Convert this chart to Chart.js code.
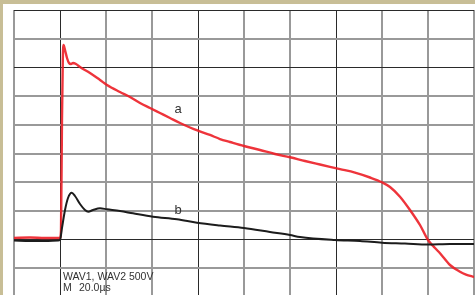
<!DOCTYPE html>
<html>
<head>
<meta charset="utf-8">
<script src="https://cdn.jsdelivr.net/npm/chart.js@4"></script>
<style>
html,body{margin:0;padding:0;background:#fff;overflow:hidden;}
#wrap{width:475px;height:295px;position:relative;}
</style>
</head>
<body>
<div id="wrap"><canvas id="c" width="475" height="295"></canvas></div>
<script>
// Time in divisions (20 µs/div), voltage in divisions (500 V/div)
const redX = [0,0.348,0.674,1.0,1.022,1.043,1.061,1.076,1.109,1.152,1.196,1.239,1.283,1.348,1.435,1.652,1.870,2.022,2.304,2.522,2.739,2.957,3.174,3.391,3.609,3.826,4.0,4.261,4.478,4.696,5.0,5.348,5.674,6.0,6.326,6.652,7.087,7.413,7.739,8.0,8.174,8.391,8.609,8.826,9.0,9.152,9.261,9.478,9.696,9.826,10];
const redY = [0.056,0.073,0.056,0.056,0.334,4.167,6.258,6.780,6.606,6.328,6.153,6.118,6.153,6.118,6.014,5.805,5.561,5.387,5.143,4.969,4.760,4.585,4.411,4.237,4.063,3.906,3.794,3.645,3.505,3.401,3.261,3.122,2.983,2.868,2.739,2.617,2.456,2.334,2.164,1.997,1.833,1.495,1.031,0.509,-0.014,-0.293,-0.477,-0.885,-1.118,-1.216,-1.303];
const blackX = [0,0.348,0.674,0.957,1.0,1.043,1.109,1.174,1.254,1.326,1.435,1.543,1.615,1.717,1.870,2.022,2.304,2.587,3.022,3.543,3.978,4.478,5.0,5.565,6.0,6.217,6.978,7.522,8.0,8.5,9.0,9.478,10];
const blackY = [-0.031,-0.049,-0.049,-0.031,-0.014,0.404,1.031,1.449,1.634,1.519,1.240,1.031,0.972,1.031,1.091,1.056,0.997,0.916,0.798,0.707,0.589,0.491,0.404,0.265,0.160,0.091,-0.014,-0.049,-0.108,-0.136,-0.171,-0.153,-0.153];
const xTicks = [0,1,2,3,4,5,6,7,8,9,10];
const yTicks = [-1,0,1,2,3,4,5,6,7,8];
const traceLabels = ['a','b'];
const infoLines = ['WAV1, WAV2 500V', 'M', '20.0\u00b5s'];

const darkX = [1,4,7];
const darkY = [8,6,0];

const bgPlugin = {
  id:'bg',
  beforeDraw(chart){
    const ctx = chart.ctx;
    ctx.save();
    ctx.fillStyle = '#c8be96';
    ctx.fillRect(0,0,chart.width,chart.height);
    ctx.fillStyle = '#ffffff';
    ctx.fillRect(3,4,chart.width-3,chart.height-4);
    ctx.restore();
  },
  afterDraw(chart){
    const ctx = chart.ctx;
    ctx.save();
    ctx.fillStyle = '#333';
    ctx.font = '13px "Liberation Sans Narrow", "Liberation Sans", Arial, sans-serif';
    ctx.textAlign = 'center';
    ctx.textBaseline = 'alphabetic';
    ctx.fillText(traceLabels[0], 178, 113);
    ctx.fillText(traceLabels[1], 178, 214);
    ctx.textAlign = 'left';
    ctx.font = '10.5px "Liberation Sans", Arial, sans-serif';
    ctx.fillText(infoLines[0], 63, 280);
    ctx.fillText(infoLines[1], 63, 291);
    ctx.fillText(infoLines[2], 79, 291);
    ctx.restore();
  }
};

const pts = (xa, ya) => xa.map((v,i)=>({x:v, y:ya[i]}));

new Chart(document.getElementById('c'), {
  type:'line',
  data:{
    datasets:[
      {label:'a', data:pts(redX,redY), borderColor:'rgba(236,30,38,0.9)', borderWidth:2.4, pointRadius:0, cubicInterpolationMode:'monotone', order:2},
      {label:'b', data:pts(blackX,blackY), borderColor:'#1c1c1c', borderWidth:2, pointRadius:0, cubicInterpolationMode:'monotone', order:1}
    ]
  },
  options:{
    responsive:false,
    animation:false,
    devicePixelRatio:1,
    layout:{padding:{left:14, top:10, right:1, bottom:0}},
    plugins:{legend:{display:false}, tooltip:{enabled:false}},
    scales:{
      x:{type:'linear', min:0, max:10,
        afterBuildTicks(s){ s.ticks = xTicks.map(v=>({value:v})); },
        ticks:{display:false},
        border:{display:false},
        grid:{drawTicks:false,
          color:(c)=> darkX.includes(c.tick.value) ? '#2a2a2a' : '#999999',
          lineWidth:(c)=> darkX.includes(c.tick.value) ? 1 : 2}
      },
      y:{type:'linear', min:-1.93, max:8,
        afterBuildTicks(s){ s.ticks = yTicks.map(v=>({value:v})); },
        ticks:{display:false},
        border:{display:false},
        grid:{drawTicks:false,
          color:(c)=> darkY.includes(c.tick.value) ? '#2a2a2a' : '#999999',
          lineWidth:(c)=> darkY.includes(c.tick.value) ? 1 : 2}
      }
    }
  },
  plugins:[bgPlugin]
});
</script>
</body>
</html>
